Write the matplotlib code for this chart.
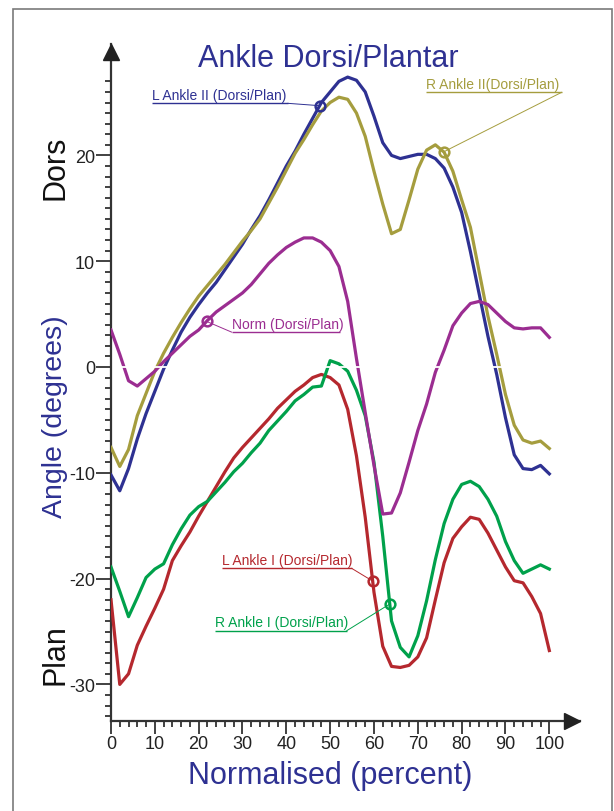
import numpy as np
import matplotlib
matplotlib.use('Agg')
import matplotlib.pyplot as plt
import matplotlib.transforms as mtransforms
from matplotlib.ticker import FixedLocator, NullFormatter
from matplotlib.patches import Rectangle

plt.rcParams['font.family'] = ['Liberation Sans', 'DejaVu Sans']
plt.rcParams['axes.unicode_minus'] = False

# ---------------- data ----------------
percent = list(range(0, 101, 2))

l_ankle_ii = [-10.2, -11.7, -9.6, -6.8, -4.4, -2.3, -0.2, 1.6, 3.3, 4.7,
              5.9, 7.0, 8.0, 9.2, 10.4, 11.6, 13.0, 14.3, 15.8, 17.4,
              19.0, 20.4, 22.0, 23.5, 25.0, 26.0, 27.0, 27.4, 27.1, 26.0,
              23.7, 21.2, 20.0, 19.7, 19.9, 20.1, 20.1, 19.7, 18.8, 17.0,
              14.6, 10.9, 6.9, 2.9, -0.7, -4.8, -8.3, -9.6, -9.7, -9.3, -10.1]

r_ankle_ii = [-7.6, -9.4, -7.8, -4.6, -2.5, -0.4, 1.3, 2.8, 4.2, 5.5,
              6.7, 7.7, 8.7, 9.7, 10.8, 11.9, 12.9, 14.0, 15.5, 17.0,
              18.6, 20.2, 21.5, 22.9, 24.2, 25.0, 25.5, 25.3, 24.0, 21.8,
              18.5, 15.4, 12.6, 13.0, 15.8, 18.7, 20.5, 21.0, 20.3, 18.5,
              15.8, 13.2, 9.0, 4.8, 1.2, -2.6, -5.5, -6.9, -7.2, -7.0, -7.7]

norm = [3.5, 1.2, -1.3, -1.8, -1.1, -0.4, 0.5, 1.3, 2.1, 2.9,
        3.5, 4.4, 5.2, 5.8, 6.4, 7.0, 7.8, 8.8, 9.8, 10.6,
        11.3, 11.8, 12.2, 12.2, 11.8, 11.0, 9.5, 6.2, 0.8, -4.3,
        -9.3, -13.9, -13.8, -11.9, -9.0, -6.0, -3.5, -0.5, 1.6, 3.9,
        5.1, 6.0, 6.2, 5.9, 5.1, 4.3, 3.7, 3.6, 3.7, 3.7, 2.8]

l_ankle_i = [-22.0, -30.0, -29.0, -26.3, -24.5, -22.8, -21.0, -18.3, -16.9, -15.6,
             -14.1, -12.7, -11.3, -9.9, -8.6, -7.6, -6.7, -5.8, -4.9, -3.9,
             -3.1, -2.3, -1.7, -1.0, -0.7, -1.0, -1.7, -4.0, -8.4, -14.2,
             -21.3, -26.4, -28.3, -28.4, -28.2, -27.4, -25.6, -22.0, -18.5, -16.2,
             -15.1, -14.2, -14.4, -15.7, -17.3, -18.9, -20.2, -20.4, -21.7, -23.3, -26.8]

r_ankle_i = [-18.9, -21.2, -23.6, -21.8, -19.9, -19.1, -18.6, -16.8, -15.3, -14.0,
             -13.2, -12.7, -11.8, -10.9, -9.9, -9.1, -8.1, -7.2, -6.0, -5.1,
             -4.2, -3.2, -2.6, -1.9, -1.8, 0.6, 0.3, -0.4, -2.2, -4.6,
             -9.0, -16.0, -24.0, -26.5, -27.4, -25.4, -22.1, -18.2, -14.8, -12.5,
             -11.1, -10.8, -11.3, -12.5, -14.1, -16.5, -18.3, -19.5, -19.1, -18.7, -19.1]

x_major = [0, 10, 20, 30, 40, 50, 60, 70, 80, 90, 100]
x_minor = list(range(0, 101, 2))
y_major = [-30, -20, -10, 0, 10, 20]
y_minor = list(range(-33, 28))

series_names = ["L Ankle II (Dorsi/Plan)", "R Ankle II(Dorsi/Plan)",
                "Norm (Dorsi/Plan)", "L Ankle I (Dorsi/Plan)",
                "R Ankle I (Dorsi/Plan)"]

# ---------------- style ----------------
BLUE = '#2E3192'
OLIVE = '#A59D3E'
PURPLE = '#9B2D91'
RED = '#B5282E'
GREEN = '#00A14B'
AXC = '#333333'

W, H = 614, 812
fig = plt.figure(figsize=(W / 100, H / 100), dpi=100)

def fx(px):
    return px / W

def fy(py):
    return 1 - py / H

# axes: x=0 at px 111, x=107 at px 580 ; y=0 at px 368, 10.58 px/deg
ax_left, ax_right, ax_top, ax_bot = 111, 580, 45, 722
ax = fig.add_axes([fx(ax_left), fy(ax_bot), (ax_right - ax_left) / W, (ax_bot - ax_top) / H])
ppd = 10.58
ax.set_xlim(0, 107)
ax.set_ylim(-(ax_bot - 368) / ppd, (368 - ax_top) / ppd)

lw = 2.3
series = [l_ankle_ii, r_ankle_ii, l_ankle_i, r_ankle_i, norm]
colors = [BLUE, OLIVE, RED, GREEN, PURPLE]
for vals, c in zip(series, colors):
    ax.plot(percent, vals, color=c, lw=lw, solid_joinstyle='round', zorder=3)

# white zero line over the curves
ax.axhline(0, xmin=0.006, color='white', lw=1.3, zorder=4)

# spines
for s in ['top', 'right']:
    ax.spines[s].set_visible(False)
for s in ['left', 'bottom']:
    ax.spines[s].set_color(AXC)
    ax.spines[s].set_linewidth(1.6)

ax.xaxis.set_major_locator(FixedLocator(x_major))
ax.xaxis.set_minor_locator(FixedLocator(x_minor))
ax.yaxis.set_major_locator(FixedLocator(y_major))
ax.yaxis.set_minor_locator(FixedLocator(y_minor))
ax.xaxis.set_minor_formatter(NullFormatter())
ax.yaxis.set_minor_formatter(NullFormatter())
ax.tick_params(axis='y', which='major', length=11, width=1.3, color=AXC, pad=0.5,
               labelsize=13, labelcolor='#222222')
ax.tick_params(axis='y', which='minor', length=4.5, width=1.3, color=AXC)
ax.tick_params(axis='x', which='major', length=9, width=1.3, color=AXC, pad=1,
               labelsize=13, labelcolor='#222222')
ax.tick_params(axis='x', which='minor', length=4.5, width=1.3, color=AXC)

# arrow heads
off_top = mtransforms.offset_copy(ax.transAxes, fig=fig, x=0, y=-8, units='dots')
ax.plot([0], [1], marker='^', markersize=11.5, color='#222222', transform=off_top,
        clip_on=False, zorder=6)
off_right = mtransforms.offset_copy(ax.transAxes, fig=fig, x=-8, y=0, units='dots')
ax.plot([1], [0], marker='>', markersize=11.5, color='#222222', transform=off_right,
        clip_on=False, zorder=6)

# annotations: (series, colour, marker x, text x, underline y, underline end x, leader side)
ann = [
    (l_ankle_ii, BLUE, 47.6, 9.3, 24.92, 40.4, 'right'),
    (r_ankle_ii, OLIVE, 75.9, 71.9, 25.96, 102.8, 'right'),
    (norm, PURPLE, 21.8, 27.5, 3.30, 52.3, 'left'),
    (l_ankle_i, RED, 59.7, 25.3, -19.03, 54.9, 'right'),
    (r_ankle_i, GREEN, 63.6, 23.7, -24.92, 53.8, 'right'),
]
for (vals, c, mx, tx, uy, ux2, side), name in zip(ann, series_names):
    my = float(np.interp(mx, percent, vals))
    ax.plot([mx], [my], marker='o', ms=7, mfc='none', mec=c, mew=1.8, zorder=5)
    ax.plot([tx, ux2], [uy, uy], color=c, lw=1.0, zorder=5, solid_capstyle='butt')
    lx = ux2 if side == 'right' else tx
    ax.plot([lx, mx], [uy, my], color=c, lw=0.7, zorder=5)
    ax.text(tx, uy + 0.42, name, color=c, fontsize=10, ha='left', va='baseline', zorder=5)

# titles and axis labels
fig.text(fx(328), fy(59), 'Ankle Dorsi/Plantar', color=BLUE, fontsize=22, ha='center', va='center')
fig.text(fx(330), fy(776), 'Normalised (percent)', color=BLUE, fontsize=22, ha='center', va='center')
fig.text(fx(56), fy(168), 'Dors', color='#111111', fontsize=22, rotation=90, ha='center', va='center')
fig.text(fx(55), fy(417), 'Angle (degrees)', color=BLUE, fontsize=20.5, rotation=90, ha='center', va='center')
fig.text(fx(56), fy(655), 'Plan', color='#111111', fontsize=22, rotation=90, ha='center', va='center')

# outer frame
fig.patches.append(Rectangle((fx(13), -0.05), fx(612) - fx(13), fy(10) + 0.05,
                             transform=fig.transFigure, fill=False, edgecolor='#7a7a7a',
                             lw=1.2, zorder=0))

fig.savefig('out.png', dpi=100)
